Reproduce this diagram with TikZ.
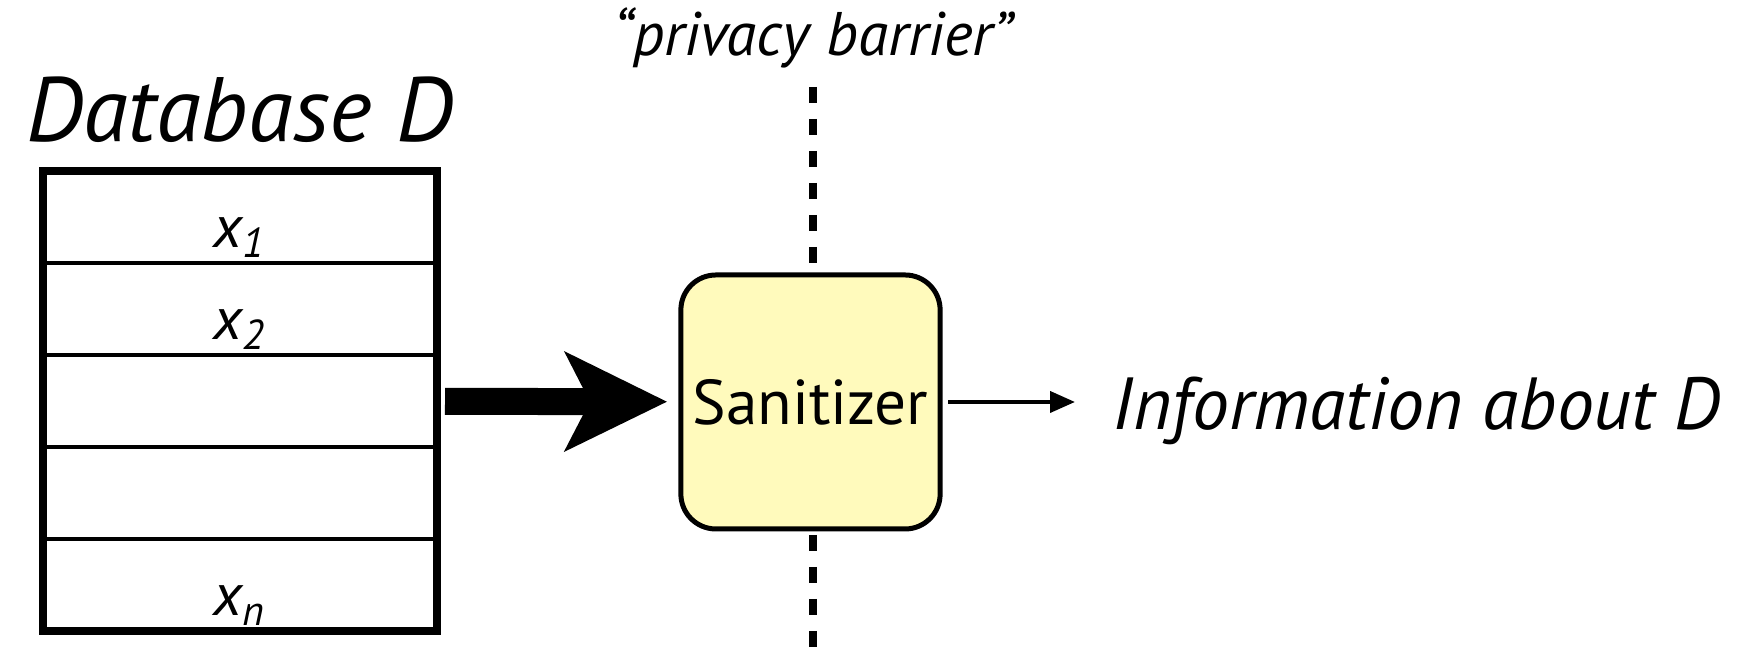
\documentclass[tikz,border=0pt]{standalone}
\usepackage{fontspec}
\setmainfont{PT Sans}
\usetikzlibrary{arrows.meta,positioning,fit}
\definecolor{sanfill}{RGB}{255,250,188}

\begin{document}
\begin{tikzpicture}[
  row/.style={draw, line width=0.045cm, minimum width=3.935cm,
              minimum height=0.92cm, inner sep=0pt, outer sep=0pt},
  entry/.style={font=\fontsize{17}{20}\selectfont\itshape, inner sep=0pt,
                anchor=base},
  sanbox/.style={draw, line width=0.05cm, fill=sanfill, rounded corners=0.35cm,
                 minimum width=2.59cm, minimum height=2.54cm,
                 font=\fontsize{18}{21}\selectfont},
  bigtext/.style={font=\fontsize{26}{30}\selectfont\itshape, inner sep=0pt},
  barline/.style={line width=0.08cm, dash pattern=on 0.16cm off 0.16cm},
  bigarrow/.style={line width=0.27cm,
                   -{Stealth[length=1.03cm, width=1.01cm, inset=0.26cm, line width=0pt]}},
  >={Triangle[length=0.25cm, width=0.21cm]}]
  \useasboundingbox (0,0) rectangle (17.52,6.48);

  % the barrier, drawn first so the box hides it
  \node[font=\fontsize{17.5}{21}\selectfont\itshape, inner sep=0pt, anchor=base]
      (barrier) at (8.13,5.92) {``privacy barrier''};
  \coordinate (bartop) at (8.13,5.61);
  \coordinate (barbot) at (8.13,0);
  \draw[barline] (bartop) -- (barbot);

  % database rows
  \foreach \i/\lab in {1/{x\textsubscript{1}}, 2/{x\textsubscript{2}}, 3/{}, 4/{},
                       5/{x\textsubscript{n}}} {
    \node[row] (row\i) at (2.3975, {5.23-0.92*\i}) {};
    \node[entry] (lab\i) at ([yshift=-0.31cm]row\i.center) {\lab};
  }
  \node[fit=(row1)(row5), draw, line width=0.08cm, inner sep=0pt] (db) {};
  \node[bigtext, above=0.24cm of db] (title) {Database D};

  \node[sanbox] (san) at (8.105,2.46) {Sanitizer};
  \node[bigtext, font=\fontsize{21}{25}\selectfont\itshape, anchor=base west]
      (info) at (11.12,2.18) {Information about D};

  \draw[bigarrow, shorten <=0.045cm, shorten >=0.115cm] (db) -- (san);
  \draw[->, line width=0.04cm, shorten <=0.055cm, shorten >=0.37cm]
      (san.east) -- (san.east -| info.west);
\end{tikzpicture}
\end{document}
